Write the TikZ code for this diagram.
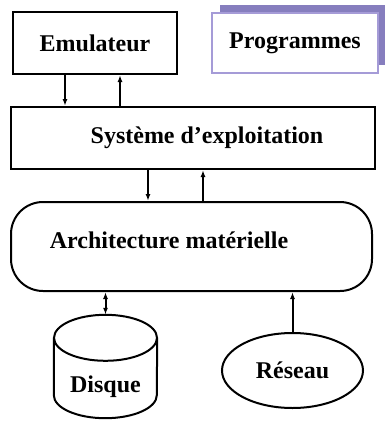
\documentclass[tikz,border=0pt]{standalone}
\usepackage{fontspec}
\setmainfont{Liberation Serif}
\usetikzlibrary{positioning,shapes.geometric,shadows,arrows.meta}
\definecolor{progshadow}{RGB}{134,126,190}
\definecolor{progborder}{RGB}{165,155,215}

\begin{document}
\begin{tikzpicture}[x=1pt, y=-1pt,
        font=\fontsize{24}{28}\selectfont\bfseries,
        >={Latex[length=7pt,width=5pt]},
        squarenode/.style={rectangle, draw=black, line width=2pt, inner sep=0pt, minimum height=62pt},
        shadednode/.style={rectangle, draw=progborder, line width=1.6pt, fill=white, minimum width=166pt, minimum height=60pt, general shadow={fill=progshadow, shadow xshift=8pt, shadow yshift=8pt}},
        roundnode/.style={rectangle, draw=black, line width=2pt, rounded corners=32pt, minimum width=361pt, minimum height=89pt},
        disknode/.style={rectangle, inner sep=0pt, minimum width=103pt, minimum height=103pt},
        ovalnode/.style={ellipse, draw=black, line width=2pt, minimum width=141pt, minimum height=75pt, inner sep=0pt},
        link/.style={->, line width=2pt},
]
        \useasboundingbox (0,0) rectangle (384,421);

        \node[squarenode, minimum width=164pt] (emulateur) at (95,43) {Emulateur};
        \node[shadednode] (programmes) at (295,43) {Programmes};
        \node[squarenode, minimum width=364pt, label={[xshift=14pt]center:Système d'exploitation}] (systeme) at (193,138) {};
        \node[roundnode, label={[xshift=-22.5pt, yshift=6.5pt]center:Architecture matérielle}] (architecture) at (191.5,246.5) {};
        \node[disknode, label={[yshift=-20pt]center:Disque}] (disque) at (105.5,366.5) {};
        \node[ovalnode] (reseau) at (292.5,370.5) {Réseau};

        \draw[line width=2pt] ([yshift=-23pt]disque.north) ellipse [x radius=51.5pt, y radius=23pt];
        \draw[line width=2pt] ([yshift=-23pt]disque.north west) -- ([yshift=23pt]disque.south west)
            arc[start angle=180, end angle=360, x radius=51.5pt, y radius=23pt] -- ([yshift=-23pt]disque.north east);

        \draw[link] ([xshift=-30pt]emulateur.south) -- ([xshift=-30pt]emulateur.south |- systeme.north);
        \draw[link] ([xshift=25pt]emulateur.south |- systeme.north) -- ([xshift=25pt]emulateur.south);
        \draw[link] ([xshift=-45pt]systeme.south) -- ([xshift=-45pt]systeme.south |- architecture.north);
        \draw[link] ([xshift=10pt]systeme.south |- architecture.north) -- ([xshift=10pt]systeme.south);
        \draw[link, <->] (disque.north |- architecture.south) -- (disque.north);
        \draw[link] (reseau.north) -- (reseau.north |- architecture.south);
    \end{tikzpicture}
\end{document}
